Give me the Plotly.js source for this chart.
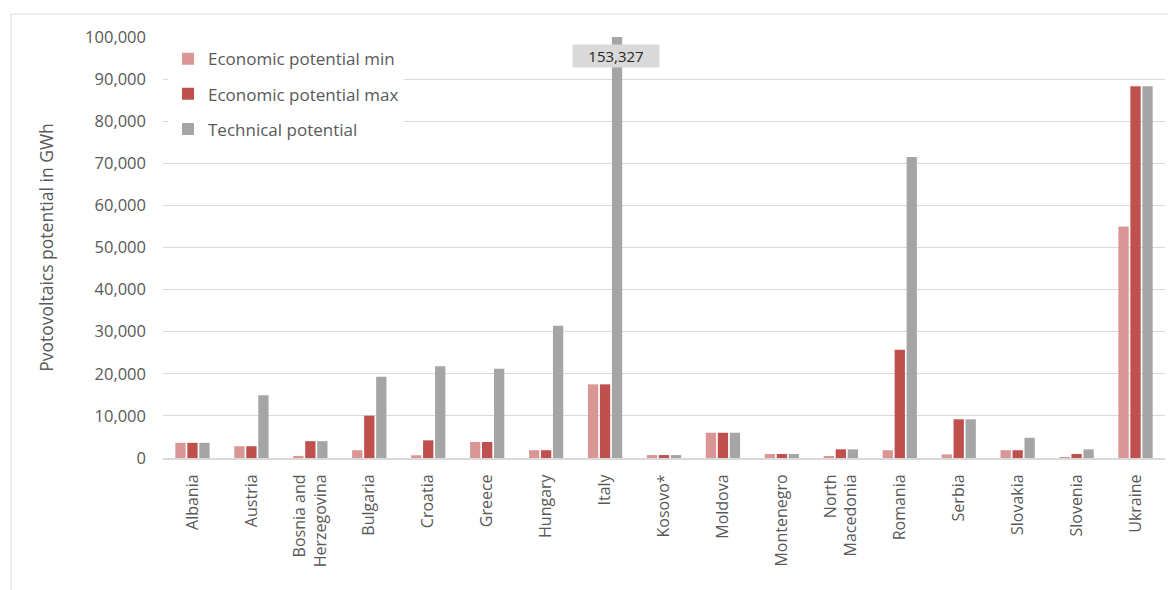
<!DOCTYPE html>
<html>
<head>
<meta charset="utf-8">
<script src="https://cdn.plot.ly/plotly-3.0.1.min.js"></script>
<style>
  html, body { margin: 0; padding: 0; background: #ffffff; }
  #chart { width: 1168px; height: 590px; }
</style>
</head>
<body>
<div id="chart"></div>
<script>
// Photovoltaic potential per country (GWh)
const countries = [
  "Albania", "Austria", "Bosnia and<br>Herzegovina", "Bulgaria", "Croatia", "Greece",
  "Hungary", "Italy", "Kosovo*", "Moldova", "Montenegro", "North<br>Macedonia",
  "Romania", "Serbia", "Slovakia", "Slovenia", "Ukraine"
];
const economicMin = [3600, 2800, 500, 1850, 650, 3800, 1850, 17500, 700, 6000, 950, 480, 1850, 870, 1850, 240, 55000];
const economicMax = [3600, 2800, 4000, 10050, 4200, 3800, 1850, 17500, 700, 6000, 950, 2060, 25700, 9200, 1850, 950, 88300];
const technical   = [3600, 14900, 4000, 19300, 21800, 21200, 31400, 153327, 700, 6000, 950, 2060, 71500, 9200, 4800, 2060, 88300];

const seriesNames = ["Economic potential min", "Economic potential max", "Technical potential"];
const seriesColors = ["#D99694", "#C0504D", "#A5A5A5"];
const yMax = 100000;

const textColor = "#595959";
const font = "Open Sans, Noto Sans, sans-serif";

const traces = [economicMin, economicMax, technical].map((vals, i) => ({
  type: "bar",
  name: seriesNames[i],
  x: countries,
  y: vals,
  marker: { color: seriesColors[i], line: { width: 0 } },
  legendgroup: "g" + i,
  hoverinfo: "x+y"
}));

// Value callout for any bar running past the top of the axis
const annotations = [];
technical.forEach((v, i) => {
  if (v > yMax) {
    annotations.push({
      x: countries[i], y: yMax * 0.955, xref: "x", yref: "y",
      xshift: 11,
      text: v.toLocaleString("en-US"),
      showarrow: false,
      bgcolor: "#D9D9D9",
      font: { family: font, size: 15, color: "#262626" },
      borderpad: 1,
      width: 84,
      height: 20
    });
  }
});

const layout = {
  width: 1168, height: 590,
  margin: { l: 163, r: 3, t: 37, b: 132 },
  paper_bgcolor: "#ffffff",
  plot_bgcolor: "#ffffff",
  font: { family: font, color: textColor },
  barmode: "group",
  bargap: 0.39,
  bargroupgap: 0.14,
  showlegend: true,
  legend: {
    x: 0.005, y: 0.99, xanchor: "left", yanchor: "top",
    bgcolor: "#ffffff",
    font: { family: font, size: 17, color: textColor },
    tracegroupgap: 10,
    itemwidth: 30
  },
  xaxis: {
    type: "category",
    tickangle: -90,
    tickfont: { family: font, size: 16, color: textColor },
    showline: true, linecolor: "#D9D9D9", linewidth: 2,
    ticks: "", showgrid: false,
    ticklabelstandoff: 8,
    automargin: false
  },
  yaxis: {
    range: [0, yMax],
    dtick: 10000,
    tickformat: ",d",
    tickfont: { family: font, size: 16.5, color: textColor },
    gridcolor: "#D9D9D9", gridwidth: 1,
    zeroline: false,
    ticks: "",
    ticklabelstandoff: 16,
    automargin: false,
    title: { text: "Pvotovoltaics potential in GWh", font: { family: font, size: 17.5, color: textColor }, standoff: 26 }
  },
  annotations: annotations,
  shapes: [{
    type: "rect", xref: "paper", yref: "paper",
    x0: -152 / 1002, x1: 1.05, y0: -0.5, y1: 1 + 23 / 421,
    line: { color: "#D9D9D9", width: 1 }, fillcolor: "rgba(0,0,0,0)", layer: "below"
  }]
};

Plotly.newPlot("chart", traces, layout, { displayModeBar: false, staticPlot: true });
</script>
</body>
</html>
